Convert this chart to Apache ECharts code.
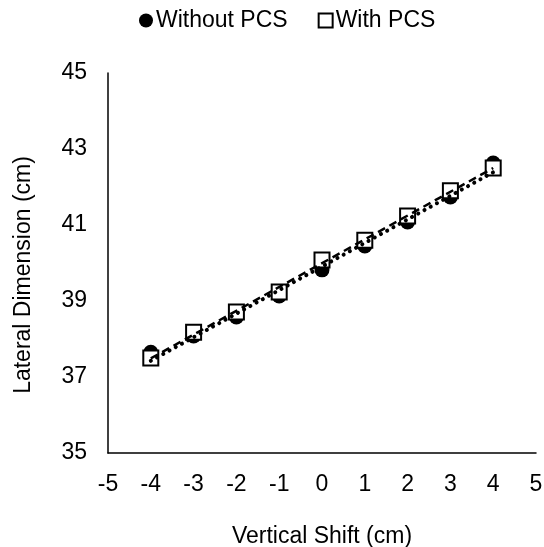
<!DOCTYPE html>
<html><head><meta charset="utf-8">
<script src="https://cdn.jsdelivr.net/npm/echarts@6/dist/echarts.min.js"></script>
<style>html,body{margin:0;padding:0;background:#fff}#c{width:544px;height:547px}</style>
</head><body><div id="c"></div>
<script>
const shifts = [-4, -3, -2, -1, 0, 1, 2, 3, 4];
const withoutPCS = [37.65, 38.08, 38.58, 39.13, 39.82, 40.45, 41.08, 41.74, 42.63];
const withPCS = [37.5, 38.18, 38.71, 39.24, 40.08, 40.6, 41.24, 41.9, 42.5];
const xTicks = [-5, -4, -3, -2, -1, 0, 1, 2, 3, 4, 5];
const yTicks = [35, 37, 39, 41, 43, 45];

function fit(xs, ys) {
  const n = xs.length;
  const mx = xs.reduce((a, b) => a + b, 0) / n;
  const my = ys.reduce((a, b) => a + b, 0) / n;
  let sxy = 0, sxx = 0;
  for (let i = 0; i < n; i++) { sxy += (xs[i] - mx) * (ys[i] - my); sxx += (xs[i] - mx) ** 2; }
  const b = sxy / sxx, a = my - b * mx;
  const x0 = xs[0], x1 = xs[n - 1];
  return [[x0, a + b * x0], [x1, a + b * x1]];
}

const font = 'Liberation Sans, Arial, sans-serif';
const chart = echarts.init(document.getElementById('c'));
chart.setOption({
  animation: false,
  backgroundColor: '#fff',
  legend: {
    data: [{name: 'Without PCS', icon: 'circle'}, {name: 'With PCS', icon: 'rect'}],
    top: 4, left: 134, itemWidth: 14, itemHeight: 14, itemGap: 30,
    textStyle: {fontFamily: font, fontSize: 23, color: '#000', padding: [0, 0, 0, -2]}
  },
  grid: {left: 108, right: 8, top: 73, bottom: 94, containLabel: false, outerBoundsMode: 'none'},
  xAxis: {
    type: 'value', min: -5, max: 5, interval: 1,
    name: 'Vertical Shift (cm)', nameLocation: 'middle', nameGap: 72,
    nameTextStyle: {fontFamily: font, fontSize: 23, color: '#000'},
    axisLine: {onZero: false, lineStyle: {color: '#000', width: 1.5}},
    axisTick: {show: false}, splitLine: {show: false},
    axisLabel: {fontFamily: font, fontSize: 23, color: '#000', margin: 20,
      formatter: v => xTicks.includes(v) ? String(v) : ''}
  },
  yAxis: {
    type: 'value', min: 35, max: 45, interval: 2,
    name: 'Lateral Dimension (cm)', nameLocation: 'middle', nameGap: 73,
    nameTextStyle: {fontFamily: font, fontSize: 23, color: '#000', padding: [0, 24, 0, 0]},
    axisLine: {show: true, onZero: false, lineStyle: {color: '#000', width: 1.5}},
    axisTick: {show: false}, splitLine: {show: false},
    axisLabel: {fontFamily: font, fontSize: 23, color: '#000', margin: 21,
      formatter: v => yTicks.includes(v) ? String(v) : ''}
  },
  series: [
    {name: 'Without PCS', type: 'scatter', symbol: 'circle', symbolSize: 15, z: 2,
      itemStyle: {color: '#000', opacity: 1},
      data: shifts.map((x, i) => [x, withoutPCS[i]])},
    {name: 'With PCS', type: 'scatter', symbol: 'rect', symbolSize: 15, z: 3,
      itemStyle: {color: '#fff', borderColor: '#000', borderWidth: 2, opacity: 1},
      data: shifts.map((x, i) => [x, withPCS[i]])},
    {name: 'trend1', type: 'line', symbol: 'none', z: 5, silent: true,
      lineStyle: {color: '#000', width: 4, type: [0.1, 7], cap: 'round'},
      data: fit(shifts, withoutPCS)},
    {name: 'trend2', type: 'line', symbol: 'none', z: 5, silent: true,
      lineStyle: {color: '#000', width: 2.5, type: [8, 5]},
      data: fit(shifts, withPCS)}
  ]
});
</script></body></html>
